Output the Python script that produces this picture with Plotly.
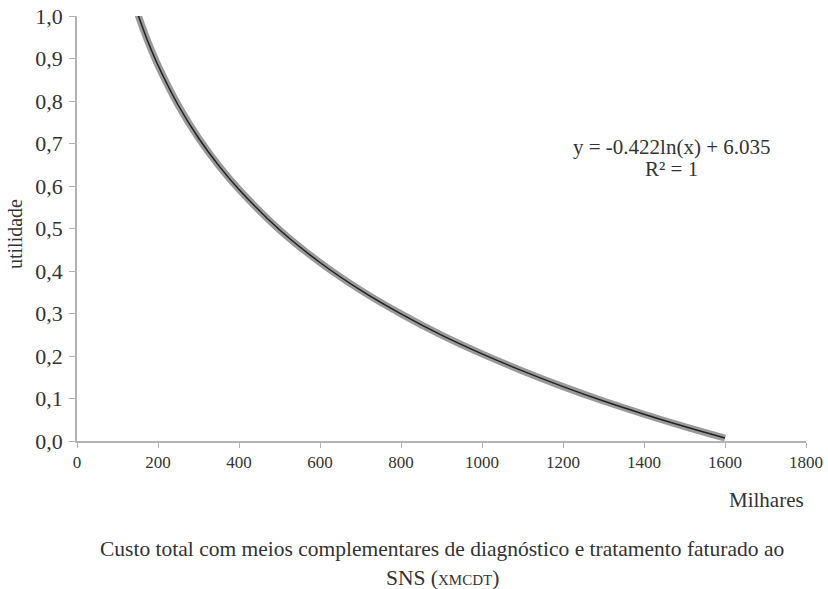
import plotly.graph_objects as go

# Values (x in thousands, "Milhares")
custo_milhares = [150, 160, 175, 200, 250, 300, 350, 400, 500, 600, 700, 800,
                  900, 1000, 1100, 1200, 1300, 1400, 1500, 1600]
utilidade = [1.005, 0.978, 0.940, 0.884, 0.790, 0.713, 0.648, 0.592, 0.497, 0.420,
             0.355, 0.299, 0.249, 0.205, 0.165, 0.128, 0.094, 0.063, 0.034, 0.007]

x_ticks = [0, 200, 400, 600, 800, 1000, 1200, 1400, 1600, 1800]
y_ticks = [0.0, 0.1, 0.2, 0.3, 0.4, 0.5, 0.6, 0.7, 0.8, 0.9, 1.0]

FONT = "Liberation Serif"
TXT = "#333333"
AXIS = "#b3b3b3"

fig = go.Figure()
fig.add_trace(go.Scatter(x=custo_milhares, y=utilidade, mode="lines",
                         line=dict(color="#9a9a9a", width=7, shape="spline"),
                         hoverinfo="skip", showlegend=False, cliponaxis=False))
fig.add_trace(go.Scatter(x=custo_milhares, y=utilidade, mode="lines",
                         line=dict(color="#222222", width=1.5, shape="spline"),
                         showlegend=False, cliponaxis=False))

fig.update_layout(
    width=828, height=589,
    margin=dict(l=77, r=22, t=16, b=148),
    paper_bgcolor="white", plot_bgcolor="white",
    separators=",.",
    font=dict(family=FONT, color=TXT),
    xaxis=dict(range=[0, 1800], tickvals=x_ticks, ticks="outside", ticklen=5,
               tickcolor=AXIS, showline=True, linecolor=AXIS, linewidth=1.5,
               showgrid=False, zeroline=False, automargin=False,
               ticklabeloverflow="allow",
               tickfont=dict(family=FONT, size=17, color=TXT)),
    yaxis=dict(range=[0, 1.0], tickvals=y_ticks, tickformat=".1f", ticks="outside",
               ticklen=6, tickcolor=AXIS, showline=True, linecolor=AXIS, linewidth=1.5,
               showgrid=False, zeroline=False, automargin=False, ticklabelstandoff=2,
               ticklabeloverflow="allow",
               tickfont=dict(family=FONT, size=22, color=TXT)),
    annotations=[
        dict(text="y = -0.422ln(x) + 6.035", x=1468, y=0.692, xref="x", yref="y",
             showarrow=False, font=dict(family=FONT, size=21, color=TXT)),
        dict(text="R² = 1", x=1468, y=0.64, xref="x", yref="y",
             showarrow=False, font=dict(family=FONT, size=21, color=TXT)),
        dict(text="utilidade", x=(15 - 77) / 729, y=(441 - 234) / 425,
             xref="paper", yref="paper", textangle=-90, showarrow=False,
             xanchor="center", yanchor="middle",
             font=dict(family=FONT, size=20, color=TXT)),
        dict(text="Milhares", x=1.0, y=-0.139, xref="paper", yref="paper",
             xanchor="right", yanchor="middle", showarrow=False,
             font=dict(family=FONT, size=21, color=TXT)),
        dict(text="Custo total com meios complementares de diagnóstico e tratamento faturado ao",
             x=(442 - 77) / 729, y=-0.254, xref="paper", yref="paper", xanchor="center",
             yanchor="middle", showarrow=False, font=dict(family=FONT, size=21.5, color=TXT)),
        dict(text="SNS (<span style='font-size:15px'>XMCDT</span>)",
             x=(442 - 77) / 729, y=-0.322, xref="paper", yref="paper", xanchor="center",
             yanchor="middle", showarrow=False, font=dict(family=FONT, size=21.5, color=TXT)),
    ],
)

fig.write_html("out.html", config={"displayModeBar": False},
               post_script="document.body.style.margin='0';document.body.style.overflow='hidden';")
